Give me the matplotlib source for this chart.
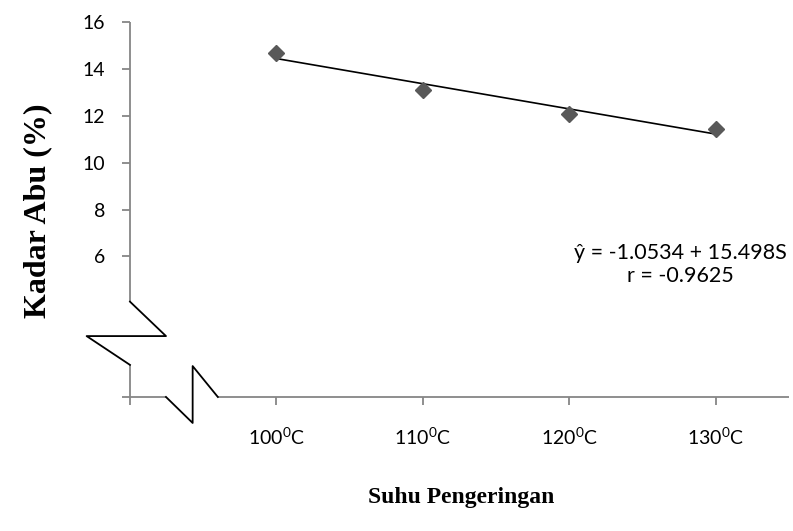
import numpy as np
import matplotlib
matplotlib.use("Agg")
import matplotlib.pyplot as plt

plt.rcParams['font.family'] = ['Lato', 'DejaVu Sans']
plt.rcParams['mathtext.fontset'] = 'custom'
plt.rcParams['mathtext.rm'] = 'Lato'
plt.rcParams['mathtext.it'] = 'Lato'

# data
categories = ['100$^0$C', '110$^0$C', '120$^0$C', '130$^0$C']
x_pos = [1, 2, 3, 4]
kadar_abu = [14.7, 13.1, 12.1, 11.45]
y_ticks = [0, 6, 8, 10, 12, 14, 16]
y_labels = ['', '6', '8', '10', '12', '14', '16']
equation = "ŷ = -1.0534 + 15.498S\nr = -0.9625"

axis_gray = '#868686'

fig = plt.figure(figsize=(7.93, 5.31), dpi=100)
ax = fig.add_axes([0.1639, 0.2524, 0.831, 0.7057])
ax.set_xlim(0, 4.5)
ax.set_ylim(0, 16)

for s in ax.spines.values():
    s.set_visible(False)

# broken axes drawn by hand
kw = dict(color=axis_gray, lw=1.3, clip_on=False, solid_capstyle='butt')
ax.plot([0, 0], [16, 4.07], **kw)
ax.plot([0, 0], [1.37, 0], **kw)
ax.plot([0, 0.246], [0, 0], **kw)
ax.plot([0.60, 4.5], [0, 0], **kw)
zk = dict(color='black', lw=1.3, clip_on=False)
ax.plot([0, 0.246, -0.296, 0], [4.07, 2.60, 2.60, 1.37], **zk)
ax.plot([0.246, 0.428, 0.428, 0.60], [0, -1.11, 1.32, 0], **zk)

ax.set_yticks(y_ticks)
ax.set_yticklabels(y_labels)
ax.set_xticks([0] + x_pos)
ax.set_xticklabels([''] + categories)
ax.tick_params(axis='y', length=6, width=1.3, color=axis_gray, pad=12,
               labelsize=14)
ax.tick_params(axis='x', length=6, width=1.3, color=axis_gray, pad=15,
               labelsize=14)

# points and trend line
ax.plot(x_pos, kadar_abu, 'D', color='#595959', markersize=8.5, clip_on=False,
        zorder=3)
coef = np.polyfit(x_pos, kadar_abu, 1)
xs = np.array([x_pos[0], x_pos[-1]])
ax.plot(xs, np.polyval(coef, xs), color='black', lw=1.2, zorder=2)

ax.text(3.76, 5.65, equation, ha='center', va='center', fontsize=15.5,
        linespacing=1.2)

fig.text(0.048, 0.603, 'Kadar Abu (%)', rotation=90, ha='center', va='center',
         fontsize=23, fontweight='bold', family='Liberation Serif')
fig.text(0.581, 0.064, 'Suhu Pengeringan', ha='center', va='center',
         fontsize=17, fontweight='bold', family='Liberation Serif')

fig.savefig('out.png', dpi=100)
